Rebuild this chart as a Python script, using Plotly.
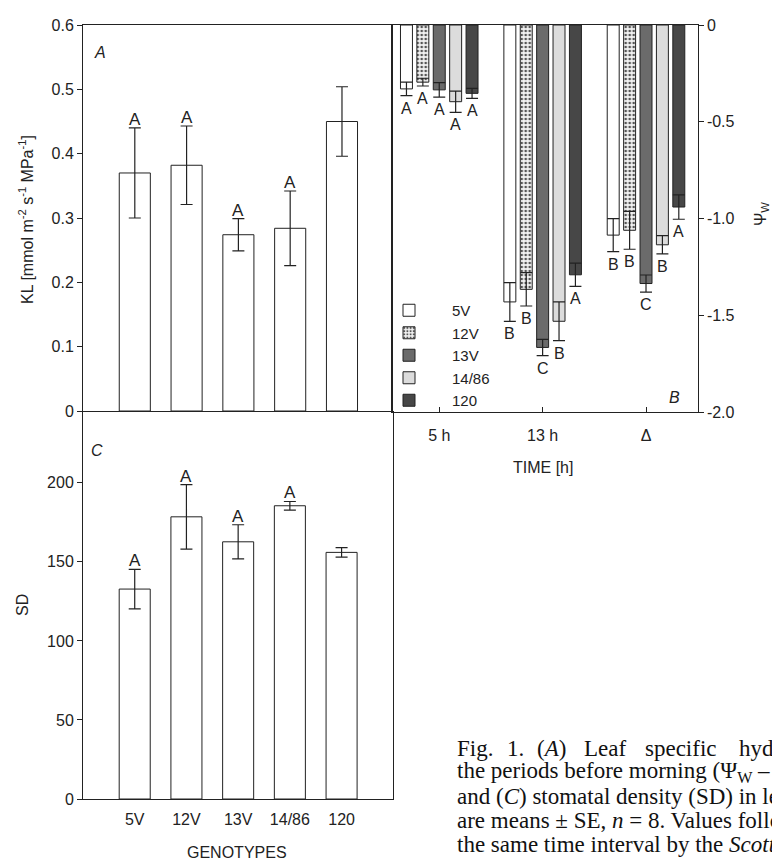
import plotly.graph_objects as go

# ---------------- data ----------------
genotypes = ['5V', '12V', '13V', '14/86', '120']

kl_mean = [0.370, 0.382, 0.274, 0.284, 0.450]
kl_se = [0.070, 0.061, 0.025, 0.058, 0.054]
kl_letters = ['A', 'A', 'A', 'A', 'A']

times = ['5 h', '13 h', 'Δ']
psi_5V = [-0.330, -1.430, -1.085]
psi_12V = [-0.295, -1.365, -1.060]
psi_13V = [-0.335, -1.665, -1.335]
psi_1486 = [-0.396, -1.530, -1.135]
psi_120 = [-0.353, -1.290, -0.940]
se_5V = [0.035, 0.100, 0.085]
se_12V = [0.020, 0.086, 0.098]
se_13V = [0.037, 0.042, 0.044]
se_1486 = [0.055, 0.100, 0.047]
se_120 = [0.026, 0.060, 0.063]
let_5V = ['A', 'B', 'B']
let_12V = ['A', 'B', 'B']
let_13V = ['A', 'C', 'C']
let_1486 = ['A', 'B', 'B']
let_120 = ['A', 'A', 'A']

sd_mean = [132.8, 178.5, 162.7, 185.5, 156.0]
sd_se = [12.5, 20.4, 10.8, 2.7, 3.0]
sd_letters = ['A', 'A', 'A', 'A', 'A']

psi_means = [psi_5V, psi_12V, psi_13V, psi_1486, psi_120]
psi_ses = [se_5V, se_12V, se_13V, se_1486, se_120]
psi_letters = [let_5V, let_12V, let_13V, let_1486, let_120]

# caption text (first line is justified word by word)
caption_words_1 = ['Fig.', '1.', '(<i>A</i>)', 'Leaf', 'specific', 'hydraulic']
caption_lines = [
    'the periods before morning (Ψ<sub>W</sub> – 5 h) and midday',
    'and (<i>C</i>) stomatal density (SD) in leaves',
    'are means ± SE, <i>n</i> = 8. Values followed by',
    'the same time interval by the <i>Scott-Knott</i> test',
]

# ---------------- layout helpers ----------------
W, H = 772, 860
FONT = 'Liberation Sans, Arial, sans-serif'
SERIF = 'Liberation Serif, Times New Roman, serif'
INK = '#222222'


def px_x(p):
    return p / W


def px_y(p):
    return 1 - p / H


fills = ['#ffffff', '#eeeeee', '#6b6b6b', '#dcdcdc', '#474747']
patterns = [None, dict(shape='.', fgcolor='#555555', bgcolor='#f2f2f2', size=4, solidity=0.35),
            None, None, None]

BARGAP = 0.207
GROUPGAP = 0.27

fig = go.Figure()

# Panel A
fig.add_trace(go.Bar(
    x=genotypes, y=kl_mean, width=0.6,
    marker=dict(color='white', line=dict(color=INK, width=1)),
    error_y=dict(type='data', array=kl_se, color=INK, thickness=1.2, width=6),
    xaxis='x', yaxis='y', showlegend=False))

# Panel B
for i, g in enumerate(genotypes):
    mk = dict(color=fills[i], line=dict(color=INK, width=1))
    if patterns[i] is not None:
        mk['pattern'] = patterns[i]
    fig.add_trace(go.Bar(
        x=times, y=psi_means[i], name=g, marker=mk,
        error_y=dict(type='data', array=psi_ses[i], color=INK, thickness=1.2, width=6),
        xaxis='x2', yaxis='y2', showlegend=True))

# Panel C
fig.add_trace(go.Bar(
    x=genotypes, y=sd_mean, width=0.6,
    marker=dict(color='white', line=dict(color=INK, width=1)),
    error_y=dict(type='data', array=sd_se, color=INK, thickness=1.2, width=6),
    xaxis='x3', yaxis='y3', showlegend=False))

annotations = []

# letters A panel
for g, m, s, l in zip(genotypes, kl_mean, kl_se, kl_letters):
    annotations.append(dict(x=g, y=m + s, xref='x', yref='y', text=l, showarrow=False,
                            xanchor='center', yanchor='bottom', yshift=-3,
                            font=dict(size=17, color=INK, family=FONT)))
# letters C panel
for g, m, s, l in zip(genotypes, sd_mean, sd_se, sd_letters):
    annotations.append(dict(x=g, y=m + s, xref='x3', yref='y3', text=l, showarrow=False,
                            xanchor='center', yanchor='bottom', yshift=-3,
                            font=dict(size=17, color=INK, family=FONT)))
# letters B panel (below error bars)
n = len(genotypes)
slot = (1 - BARGAP) / n
for i in range(n):
    off = -(1 - BARGAP) / 2 + slot * (i + 0.5)
    for j in range(len(times)):
        annotations.append(dict(x=j + off, y=psi_means[i][j] - psi_ses[i][j], xref='x2', yref='y2',
                                text=psi_letters[i][j], showarrow=False, xanchor='center',
                                yanchor='top', yshift=-2,
                                font=dict(size=16, color=INK, family=FONT)))


def paper_text(x, y, text, size=16, angle=0, family=FONT, xanchor='center', color=INK):
    return dict(x=px_x(x), y=px_y(y), xref='paper', yref='paper', text=text, showarrow=False,
                xanchor=xanchor, yanchor='middle', textangle=angle,
                font=dict(size=size, color=color, family=family))


# panel labels
annotations += [
    paper_text(100, 53, '<i>A</i>'),
    paper_text(97, 450, '<i>C</i>'),
    paper_text(674, 397, '<i>B</i>'),
]

# axis titles
annotations += [
    paper_text(26, 220, 'KL [mmol m<sup>-2</sup> s<sup>-1</sup> MPa<sup>-1</sup>]', angle=-90),
    paper_text(22, 605, 'SD', angle=-90),
    paper_text(762, 214, 'Ψ<sub>W</sub>', angle=-90),
    paper_text(543, 467, 'TIME [h]'),
    paper_text(237, 852, 'GENOTYPES'),
]

# caption
CAP_SIZE = 23
word_x = [455, 505, 535, 582, 643, 737]
for wd, xx in zip(caption_words_1, word_x):
    annotations.append(paper_text(xx, 748, wd, size=CAP_SIZE, family=SERIF, xanchor='left',
                                  color='#111111'))
caption_y = [772, 796, 820, 844]
for t, yy in zip(caption_lines, caption_y):
    annotations.append(paper_text(455, yy, t, size=CAP_SIZE, family=SERIF, xanchor='left',
                                  color='#111111'))

axis_common = dict(showline=True, linecolor=INK, linewidth=1, mirror=True, showgrid=False,
                   zeroline=False, tickfont=dict(size=16, color=INK, family=FONT),
                   tickcolor=INK, ticklen=5, tickwidth=1, automargin=False)

fig.update_layout(
    template='none',
    width=W, height=H, autosize=False,
    margin=dict(l=0, r=0, t=0, b=0, pad=0),
    paper_bgcolor='white', plot_bgcolor='rgba(0,0,0,0)',
    barmode='group', bargap=BARGAP, bargroupgap=GROUPGAP,
    font=dict(family=FONT, size=16, color=INK),
    xaxis=dict(domain=[px_x(83), px_x(391.7)], anchor='y', range=[-1, 4.96],
               showticklabels=False, ticks='', **axis_common),
    yaxis=dict(domain=[px_y(411), px_y(25)], anchor='x', range=[0, 0.6],
               tickvals=[0, 0.1, 0.2, 0.3, 0.4, 0.5, 0.6],
               ticktext=['0', '0.1', '0.2', '0.3', '0.4', '0.5', '0.6'],
               ticks='outside', **axis_common),
    xaxis2=dict(domain=[px_x(391.7), px_x(697.7)], anchor='y2', range=[-0.46, 2.5],
                type='category', categoryorder='array', categoryarray=times,
                ticks='inside', ticklabelstandoff=8, **axis_common),
    yaxis2=dict(domain=[px_y(412.3), px_y(25)], anchor='x2', side='right', range=[-2.0, 0],
                tickvals=[0, -0.5, -1.0, -1.5, -2.0],
                ticktext=['0', '-0.5', '-1.0', '-1.5', '-2.0'],
                ticks='outside', **axis_common),
    xaxis3=dict(domain=[px_x(83), px_x(393.3)], anchor='y3', range=[-1, 5.0],
                ticks='', ticklabelstandoff=6, **axis_common),
    yaxis3=dict(domain=[px_y(799), px_y(411.7)], anchor='x3', range=[0, 245],
                tickvals=[0, 50, 100, 150, 200],
                ticks='outside', **axis_common),
    legend=dict(x=px_x(366), y=px_y(294), xanchor='left', yanchor='top',
                bgcolor='rgba(0,0,0,0)', borderwidth=0,
                font=dict(size=15, color=INK, family=FONT),
                itemwidth=76, tracegroupgap=0, traceorder='normal'),
    annotations=annotations,
)

fig.write_html('out.html', config={'displayModeBar': False},
               post_script="document.body.style.margin='0';document.body.style.overflow='hidden';")
